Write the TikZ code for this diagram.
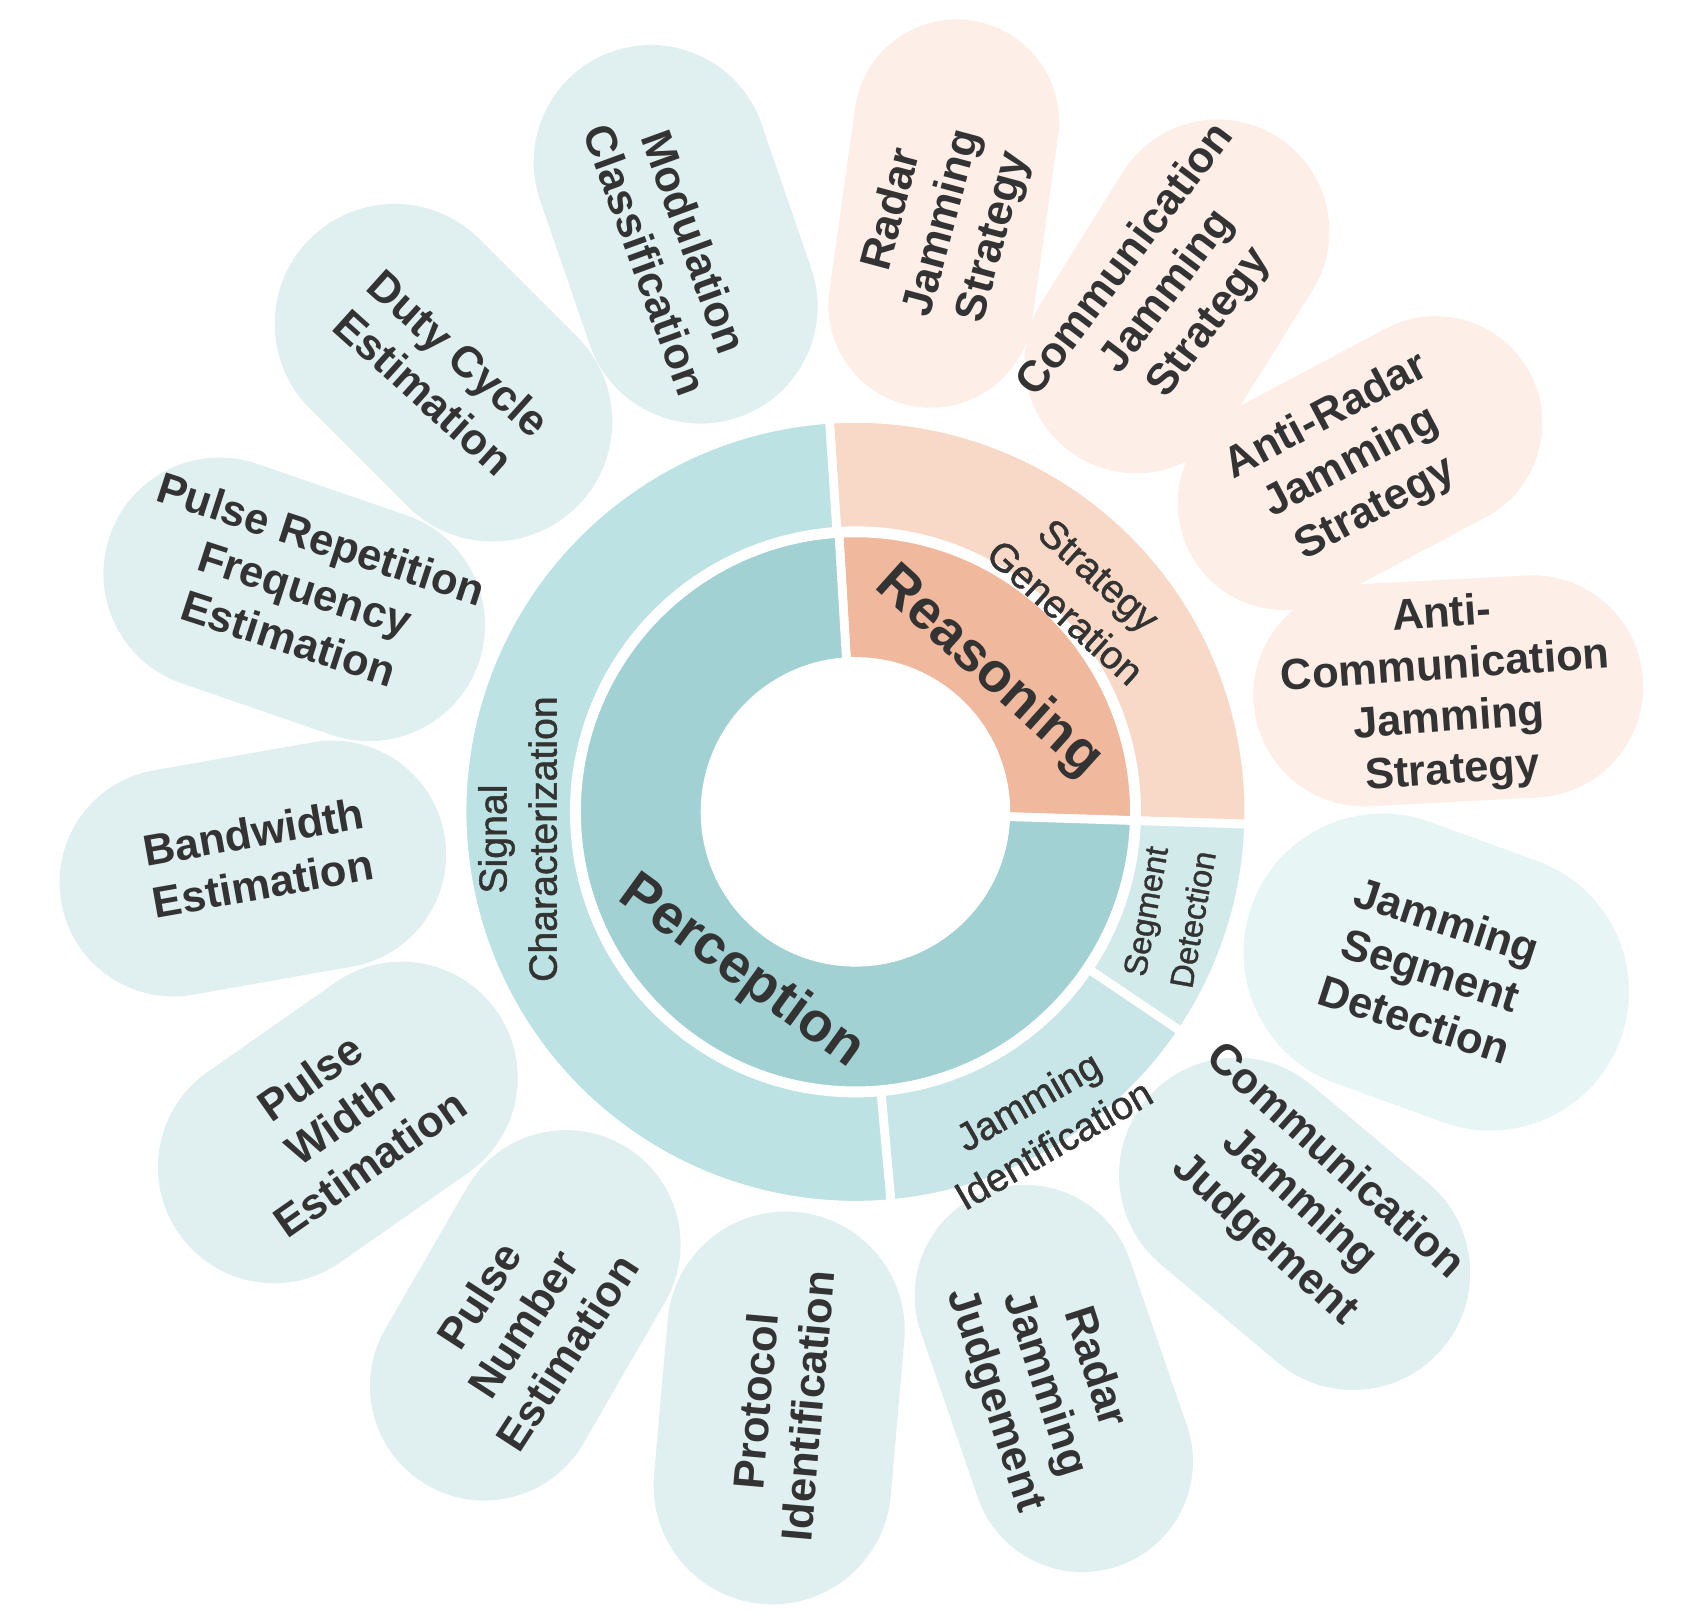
\documentclass[tikz,border=0pt]{standalone}
\usepackage{fontspec}
\setmainfont{Liberation Sans}
\newfontfamily\ringfont[FakeBold=1.2]{Liberation Sans}
\definecolor{tleaf}{HTML}{E0F0F0}
\definecolor{tleafl}{HTML}{E8F5F5}
\definecolor{oleaf}{HTML}{FDEEE7}
\definecolor{perc}{HTML}{A2D1D3}
\definecolor{sigc}{HTML}{BCE2E3}
\definecolor{jamid}{HTML}{C8E6E7}
\definecolor{segd}{HTML}{D3EAEB}
\definecolor{reas}{HTML}{F0B89C}
\definecolor{strg}{HTML}{F8D9C8}
\definecolor{txt}{HTML}{333333}
\newcommand{\sect}[5]{\fill[#5,draw=white,line width=8pt] (#3:#2) arc[start angle=#3,end angle=#4,radius=#2] -- (#4:#1) arc[start angle=#4,end angle=#3,radius=#1] -- cycle;}
\tikzset{
  leafshape/.style n args={2}{draw=none,rectangle,minimum width=#1,minimum height=#2,rounded corners=#2/2-0.01pt,inner sep=0pt},
  leaftext/.style={align=center,text=txt,font=\fontsize{40}{48}\selectfont\bfseries,inner sep=0pt},
  ringtext/.style={align=center,text=txt,font=\ringfont\fontsize{36}{46}\selectfont,inner sep=0pt},
  coretext/.style={text=txt,font=\fontsize{51}{60}\selectfont\bfseries,inner sep=0pt}
}
\begin{document}
\begin{tikzpicture}[x=1pt,y=1pt]
\useasboundingbox (0,0) rectangle (1560,1480);
% leaves
\node[leafshape={355pt}{215pt},fill=tleaf,rotate=-71] (s1) at (620,1265) {};
\node[leafshape={347pt}{220pt},fill=tleaf,rotate=-45] (s2) at (407,1138) {};
\node[leafshape={358pt}{213pt},fill=tleaf,rotate=-19] (s3) at (270,930) {};
\node[leafshape={357pt}{209pt},fill=tleaf,rotate=10] (s4) at (232,683) {};
\node[leafshape={356pt}{213pt},fill=tleaf,rotate=35] (s5) at (310,450) {};
\node[leafshape={360pt}{210pt},fill=tleaf,rotate=60] (s6) at (482,273) {};
\node[leafshape={361pt}{218pt},fill=tleaf,rotate=85] (s7) at (715,188) {};
\node[leafshape={364pt}{203pt},fill=tleaf,rotate=-71] (s8) at (967,215) {};
\node[leafshape={355pt}{215pt},fill=tleaf,rotate=-40] (s9) at (1188,357) {};
\node[leafshape={360pt}{255pt},fill=tleafl,rotate=-20] (s10) at (1318,588) {};
\node[leafshape={358pt}{204pt},fill=oleaf,rotate=3] (s11) at (1329,846) {};
\node[leafshape={353pt}{196pt},fill=oleaf,rotate=28] (s12) at (1248,1055) {};
\node[leafshape={346pt}{205pt},fill=oleaf,rotate=58] (s13) at (1080,1208) {};
\node[leafshape={358pt}{188pt},fill=oleaf,rotate=82] (s14) at (866,1284) {};
\node[leaftext,rotate=-70] (t1) at (615,1250) {Modulation\\Classification};
\node[leaftext,rotate=-42] (t2) at (405,1138) {Duty Cycle\\Estimation};
\node[leaftext,rotate=-18] (t3) at (280,940) {Pulse Repetition\\Frequency\\Estimation};
\node[leaftext,rotate=10] (t4) at (237,693) {Bandwidth\\Estimation};
\node[leaftext,rotate=35] (t5) at (312,452) {Pulse\\Width\\Estimation};
\node[leaftext,rotate=57] (t6) at (480,265) {Pulse\\Number\\Estimation};
\node[leaftext,rotate=85] (t7) at (717,192) {Protocol\\Identification};
\node[leaftext,rotate=-72] (t8) at (958,210) {Radar\\Jamming\\Judgement};
\node[leaftext,rotate=-42] (t9) at (1192,378) {Communication\\Jamming\\Judgement};
\node[leaftext,rotate=-18] (t10) at (1313,590) {Jamming\\Segment\\Detection};
\node[leaftext,rotate=4] (t11) at (1328,843) {Anti-\\Communication\\Jamming\\Strategy};
\node[leaftext,rotate=28] (t12) at (1240,1055) {Anti-Radar\\Jamming\\Strategy};
\node[leaftext,rotate=53] (t13) at (1072,1212) {Communication\\Jamming\\Strategy};
\node[leaftext,rotate=75] (t14) at (866,1275) {Radar\\Jamming\\Strategy};
% rings
\begin{scope}[shift={(785,735)}]
\sect{138}{256}{-1.8}{93.4}{reas}
\sect{138}{256}{93.4}{358.2}{perc}
\sect{258}{361}{-1.8}{93.8}{strg}
\sect{258}{361}{-34}{-1.8}{segd}
\sect{258}{361}{-84.8}{-34}{jamid}
\sect{258}{361}{93.8}{275.2}{sigc}
\end{scope}
\node[coretext,rotate=-42] (reasoning) at (907,863) {Reasoning};
\node[coretext,rotate=-36] (perception) at (680,588) {Perception};
\node[ringtext,rotate=90] (sigchar) at (475,710) {Signal\\Characterization};
\node[ringtext,rotate=-42] (strgen) at (993,935) {Strategy\\Generation};
\node[ringtext,rotate=80,font=\ringfont\fontsize{30}{44}\selectfont] (segdet) at (1073,640) {Segment\\Detection};
\node[ringtext,rotate=30] (jamident) at (955,450) {Jamming\\Identification};
\end{tikzpicture}
\end{document}
